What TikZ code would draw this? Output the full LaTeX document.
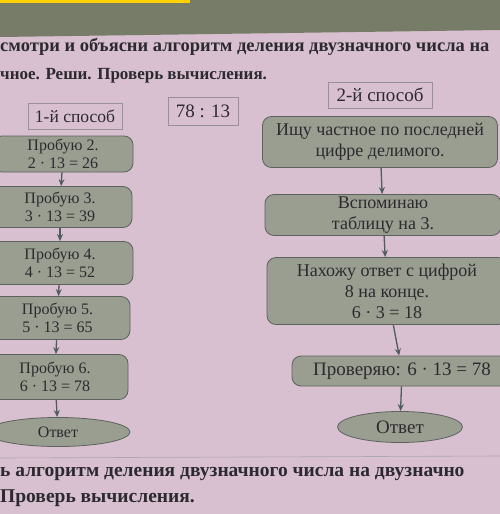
\documentclass[tikz,border=0pt]{standalone}
\usepackage{fontspec}
\setmainfont{Liberation Serif}
\usetikzlibrary{shapes.geometric,arrows.meta}
\definecolor{pagebg}{RGB}{216,192,208}
\definecolor{bandbg}{RGB}{118,124,104}
\definecolor{boxfill}{RGB}{154,158,144}
\definecolor{boxline}{RGB}{92,98,94}
\definecolor{inkc}{RGB}{44,42,48}
\definecolor{arrowc}{RGB}{80,92,96}
\definecolor{lblline}{RGB}{150,146,150}
\tikzset{
  x=1pt,y=-1pt,
  stepbox/.style={draw=boxline,line width=0.8pt,fill=boxfill,rounded corners=9pt,
    inner sep=0pt,align=center,text=inkc},
  leftfont/.style={font=\fontsize{16}{18.5}\selectfont},
  rightfont/.style={font=\fontsize{18}{21}\selectfont},
  endoval/.style={ellipse,draw=boxline,line width=0.8pt,fill=boxfill,inner sep=0pt,
    text=inkc},
  lblbox/.style={draw=lblline,line width=0.6pt,inner sep=0pt,text=inkc},
  flow/.style={draw=arrowc,line width=1.3pt,-{Stealth[length=7pt,width=6pt]}},
  headtxt/.style={text=inkc,inner sep=0pt,anchor=west}
}
\begin{document}
\begin{tikzpicture}
\useasboundingbox (0,0) rectangle (500,514);
\fill[pagebg] (0,0) rectangle (500,514);
\fill[bandbg] (0,0) -- (500,0) -- (500,30) -- (0,37) -- cycle;
\fill[yellow!70!orange] (0,0) rectangle (190,3);
\draw[lblline!80!white,line width=0.6pt] (0,458) -- (500,456);

\node[headtxt,font=\bfseries\fontsize{18.5}{20}\selectfont] (h1) at (0,47) {смотри и объясни алгоритм деления двузначного числа на};
\node[headtxt,font=\bfseries\fontsize{17}{20}\selectfont] (h2) at (0,76) {чное. Реши. Проверь вычисления.};

\node[lblbox,font=\fontsize{17.5}{19}\selectfont,minimum width=94,minimum height=26] (m1) at (75,116) {1-й способ};
\node[lblbox,font=\fontsize{19}{21}\selectfont,minimum width=70,minimum height=28] (ex) at (203,111) {78 : 13};
\node[lblbox,font=\fontsize{19}{21}\selectfont,minimum width=104,minimum height=26] (m2) at (380,95) {2-й способ};

% left column
\node[stepbox,leftfont,minimum width=140,minimum height=36] (l1) at (63,154) {Пробую 2.\\2 · 13 = 26};
\node[stepbox,leftfont,minimum width=144,minimum height=41] (l2) at (60,207) {Пробую 3.\\3 · 13 = 39};
\node[stepbox,leftfont,minimum width=146,minimum height=43] (l3) at (60,263) {Пробую 4.\\4 · 13 = 52};
\node[stepbox,leftfont,minimum width=145,minimum height=43] (l4) at (57.5,318) {Пробую 5.\\5 · 13 = 65};
\node[stepbox,leftfont,minimum width=146,minimum height=45] (l5) at (55,377) {Пробую 6.\\6 · 13 = 78};
\node[endoval,font=\fontsize{16}{18}\selectfont,minimum width=144,minimum height=29] (l6) at (58,432) {Ответ};

\draw[flow] (l1) -- (l2);
\draw[flow] (l2) -- (l3);
\draw[flow] (l3) -- (l4);
\draw[flow] (l4) -- (l5);
\draw[flow] (l5) -- (l6);

% right column
\node[stepbox,rightfont,minimum width=235,minimum height=51] (r1) at (380,142) {Ищу частное по последней\\цифре делимого.};
\node[stepbox,rightfont,minimum width=236,minimum height=41] (r2) at (383,215) {Вспоминаю\\таблицу на 3.};
\node[stepbox,rightfont,minimum width=240,minimum height=67] (r3) at (387,291) {Нахожу ответ с цифрой\\8 на конце.\\6 · 3 = 18};
\node[stepbox,font=\fontsize{19}{21}\selectfont,minimum width=220,minimum height=30] (r4) at (402,371) {Проверяю: 6 · 13 = 78};
\node[endoval,font=\fontsize{19}{21}\selectfont,minimum width=125,minimum height=31] (r5) at (400,427) {Ответ};

\draw[flow] (r1) -- (r2);
\draw[flow] (r2) -- (r3);
\draw[flow] (r3) -- (r4);
\draw[flow] (r4) -- (r5);

\node[headtxt,font=\bfseries\fontsize{19.5}{22}\selectfont] (b1) at (0,474) {ь алгоритм деления двузначного числа на двузначно};
\node[headtxt,font=\bfseries\fontsize{19.5}{22}\selectfont] (b2) at (0,498) {Проверь вычисления.};
\end{tikzpicture}
\end{document}
